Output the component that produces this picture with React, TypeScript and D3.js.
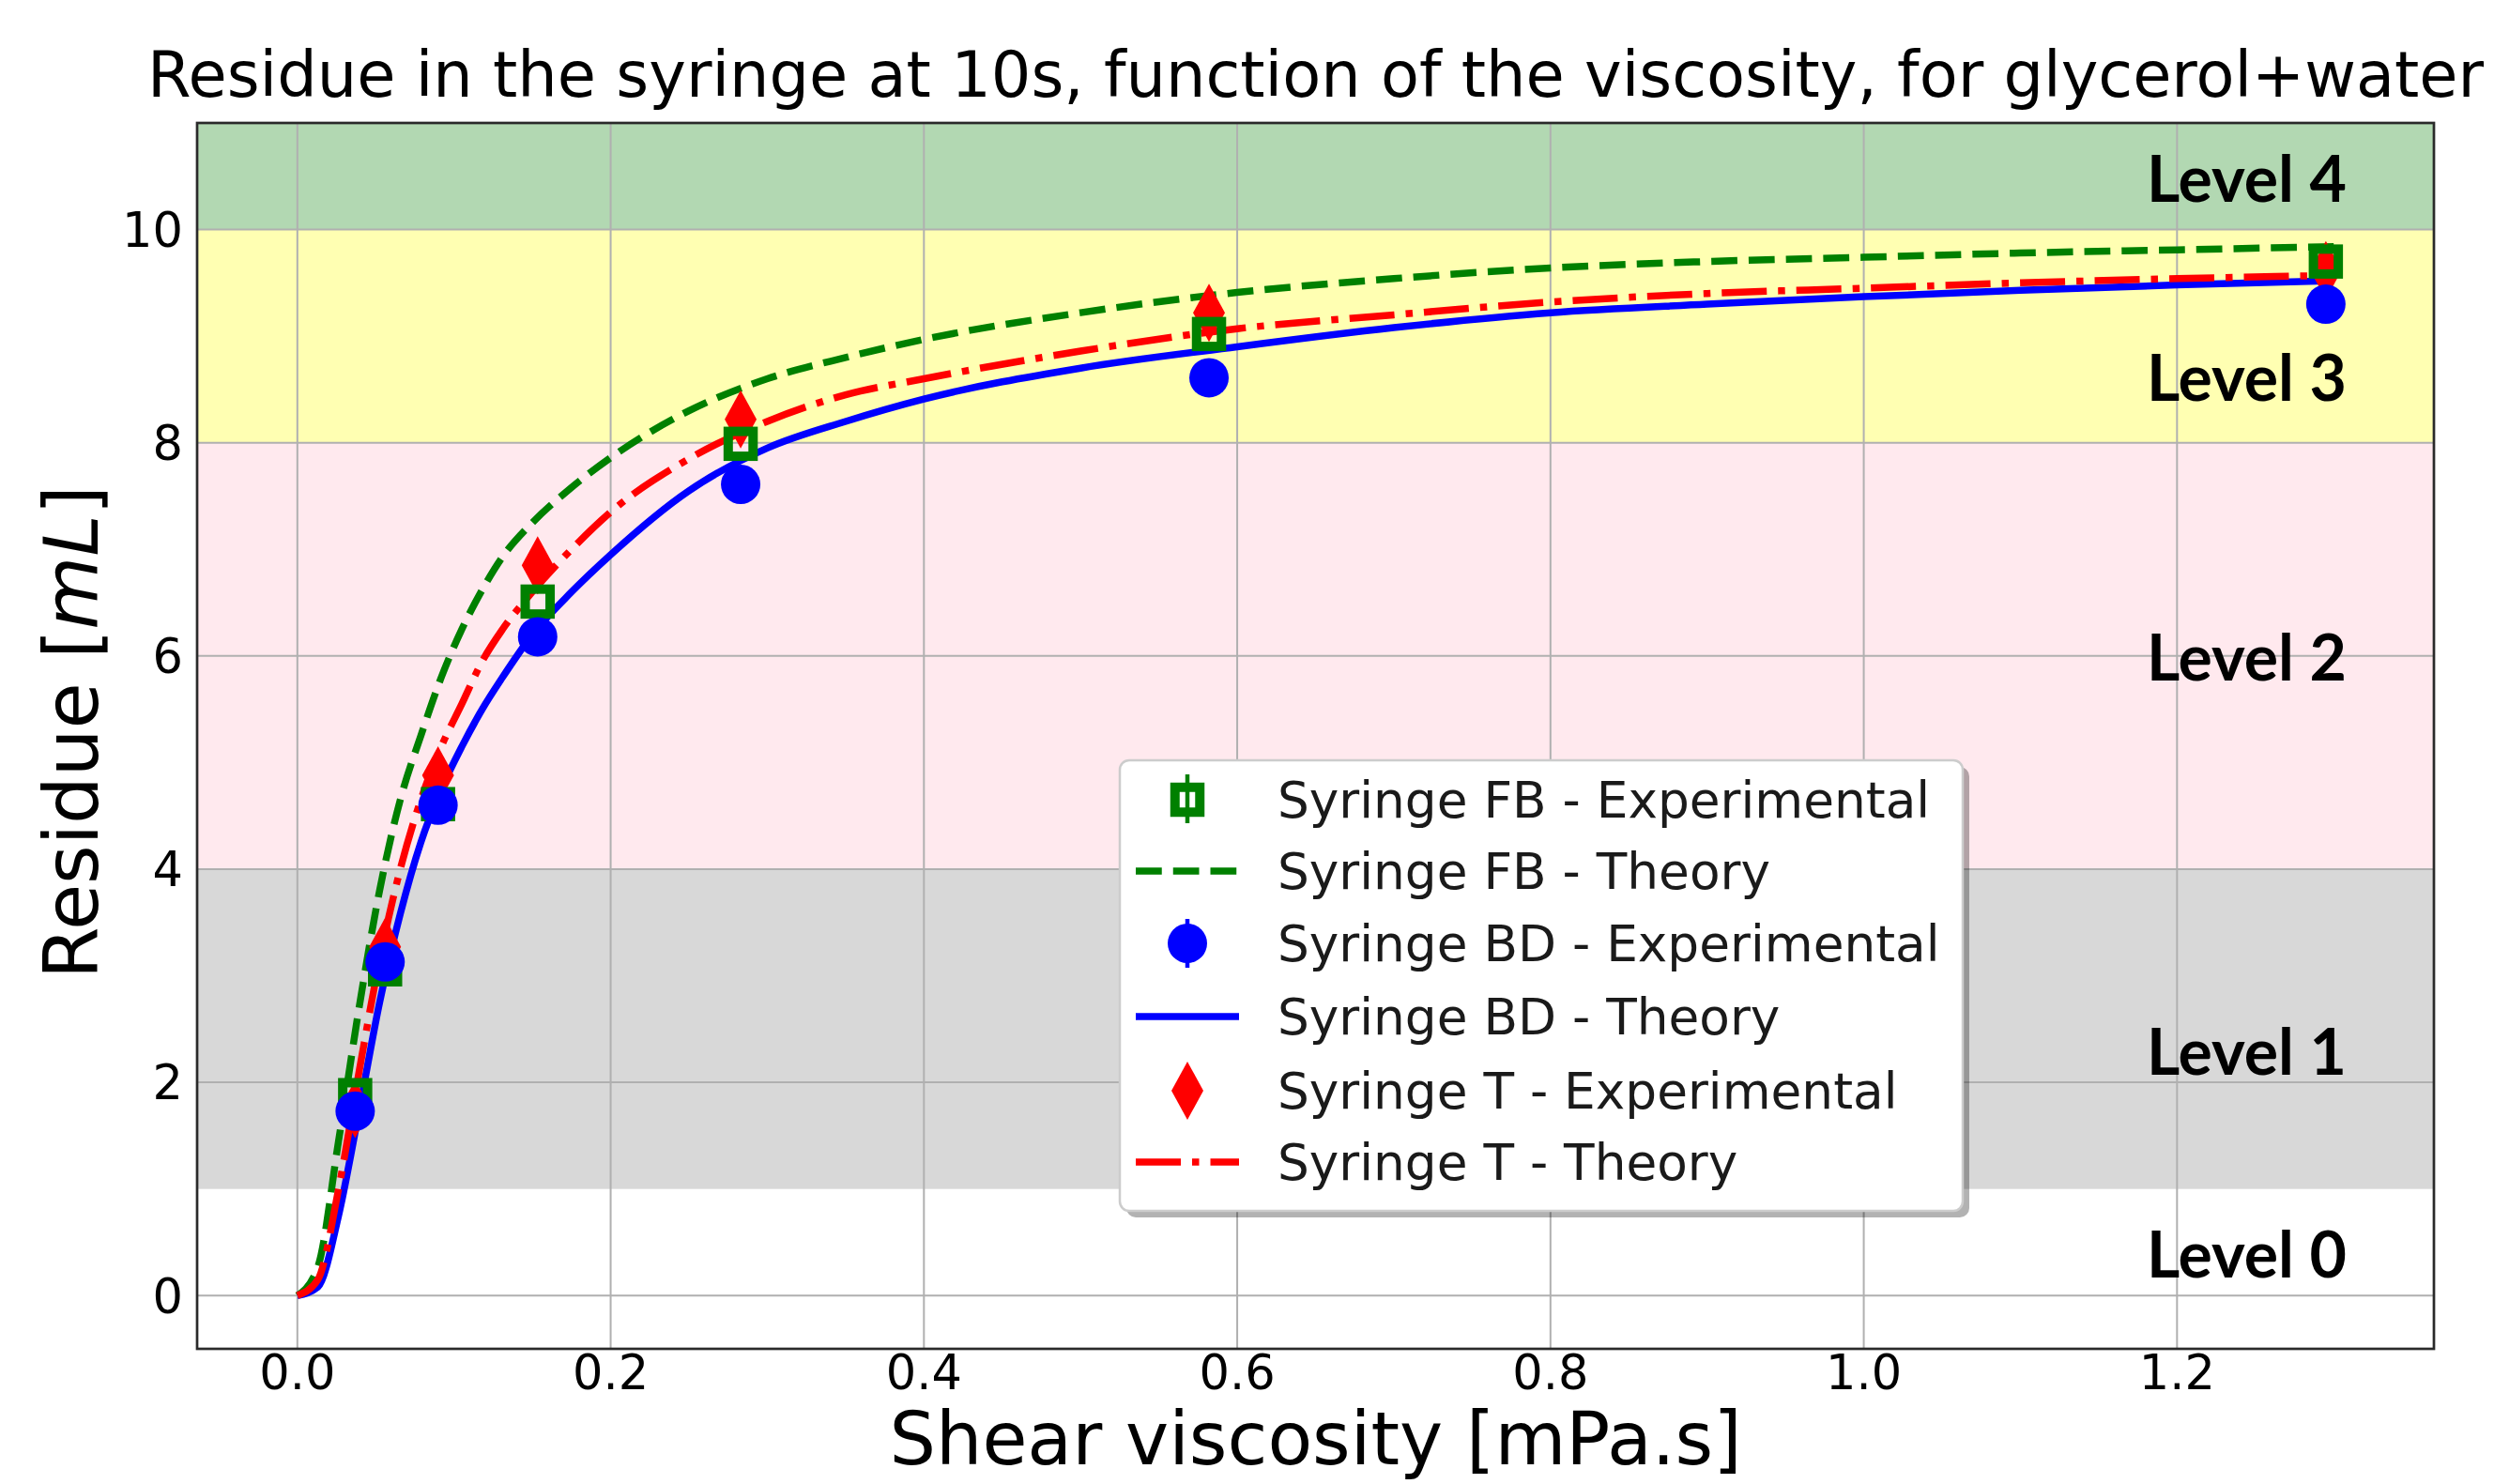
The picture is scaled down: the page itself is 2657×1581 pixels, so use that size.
import React, { useEffect } from "react";
import * as d3 from "d3";

// ---------- data ----------
const xTicks = [0.0, 0.2, 0.4, 0.6, 0.8, 1.0, 1.2];
const yTicks = [0, 2, 4, 6, 8, 10];

const xExp = [0.0369, 0.056, 0.0898, 0.1534, 0.283, 0.582, 1.295];
const fbExp = [1.88, 3.06, 4.61, 6.51, 7.99, 9.02, 9.7];
const bdExp = [1.73, 3.13, 4.6, 6.18, 7.61, 8.61, 9.3];
const tExp = [1.75, 3.27, 4.88, 6.85, 8.22, 9.22, 9.62];

const xTheory = [0, 0.0131, 0.0263, 0.0394, 0.0525, 0.0657, 0.0788, 0.0919, 0.105, 0.118, 0.131, 0.15, 0.175, 0.2, 0.25, 0.3, 0.35, 0.4, 0.5, 0.6, 0.7, 0.8, 0.9, 1.0, 1.1, 1.2, 1.3];
const fbTheory = [0, 0.27, 1.45, 2.7, 3.8, 4.65, 5.25, 5.8, 6.25, 6.62, 6.93, 7.25, 7.58, 7.86, 8.3, 8.6, 8.8, 8.97, 9.22, 9.41, 9.54, 9.64, 9.7, 9.74, 9.78, 9.81, 9.84];
const bdTheory = [0, 0.08, 0.75, 1.73, 2.75, 3.58, 4.25, 4.75, 5.15, 5.5, 5.8, 6.2, 6.6, 6.95, 7.55, 7.95, 8.2, 8.41, 8.7, 8.9, 9.08, 9.22, 9.3, 9.37, 9.43, 9.48, 9.52];
const tTheory = [0, 0.15, 1.0, 2.1, 3.15, 4.0, 4.65, 5.15, 5.55, 5.95, 6.25, 6.6, 7.0, 7.35, 7.85, 8.2, 8.45, 8.6, 8.86, 9.07, 9.2, 9.32, 9.4, 9.45, 9.5, 9.54, 9.57];

const bandLow = [1, 4, 8, 10];
const bandHigh = [4, 8, 10, 11];
const bandColors = ["#d8d8d8", "#ffe9ee", "#ffffb2", "#b2d8b2"];

const levelLabels = ["Level 0", "Level 1", "Level 2", "Level 3", "Level 4"];
const levelY = [0.17, 2.07, 5.77, 8.39, 10.26];

const legendLabels = [
  "Syringe FB - Experimental",
  "Syringe FB - Theory",
  "Syringe BD - Experimental",
  "Syringe BD - Theory",
  "Syringe T - Experimental",
  "Syringe T - Theory",
];

const GREEN = "#008000";
const BLUE = "#0000ff";
const RED = "#ff0000";

const W = 2657;
const H = 1581;
const L = 210, R = 2593, T = 131, B = 1437;

const x = d3.scaleLinear().domain([-0.064, 1.364]).range([L, R]);
const y = d3.scaleLinear().domain([-0.5, 11]).range([B, T]);

const LW = 7.5;
const DASH = `${3.7 * LW} ${1.6 * LW}`;
const DASHDOT = `${6.4 * LW} ${1.6 * LW} ${1 * LW} ${1.6 * LW}`;

const lineGen = d3
  .line<number>()
  .x((_, i) => x(xTheory[i]))
  .y((d) => y(d))
  .curve(d3.curveMonotoneX);

const SQ = 26.5; // square marker path side
const SQW = 10; // square edge width
const CR = 21; // circle radius
const diamondPath = "M0,-31 L17,0 L0,31 L-17,0 Z";

const FONT = "'DejaVu Sans', sans-serif";

export default function App() {
  useEffect(() => {
    document.body.style.margin = "0";
    document.body.style.overflow = "hidden";
  }, []);

  const legX = 1193, legY = 810, legW = 898, legH = 480;
  const rowY = [852, 928, 1005, 1083, 1162, 1238];
  const hx0 = 1210, hx1 = 1320, hxc = 1265, tx = 1361;

  return (
    <svg width={W} height={H} style={{ position: "absolute", left: 0, top: 0, background: "#fff" }}>
      <defs>
        <clipPath id="plotclip">
          <rect x={L} y={T} width={R - L} height={B - T} />
        </clipPath>
      </defs>

      {/* title */}
      <text x={(L + R) / 2} y={103} textAnchor="middle" fontFamily={FONT} fontSize={67} fill="#000">
        Residue in the syringe at 10s, function of the viscosity, for glycerol+water
      </text>

      {/* bands */}
      <g clipPath="url(#plotclip)">
        {bandLow.map((lo, i) => (
          <rect key={i} x={L} width={R - L} y={y(bandHigh[i])} height={y(lo) - y(bandHigh[i])} fill={bandColors[i]} />
        ))}
      </g>

      {/* grid */}
      <g stroke="#b0b0b0" strokeWidth={2}>
        {xTicks.map((t) => (
          <line key={"gx" + t} x1={x(t)} x2={x(t)} y1={T} y2={B} />
        ))}
        {yTicks.map((t) => (
          <line key={"gy" + t} x1={L} x2={R} y1={y(t)} y2={y(t)} />
        ))}
      </g>

      {/* level labels */}
      <g fontFamily="Lato, 'Open Sans', sans-serif" fontWeight="bold" fontSize={68} fill="#000">
        {levelLabels.map((lab, i) => (
          <text key={lab} x={2287} y={y(levelY[i])}>
            {lab}
          </text>
        ))}
      </g>

      {/* theory lines */}
      <g clipPath="url(#plotclip)" fill="none" strokeWidth={LW}>
        <path d={lineGen(fbTheory) || ""} stroke={GREEN} strokeDasharray={DASH} />
        <path d={lineGen(bdTheory) || ""} stroke={BLUE} />
        <path d={lineGen(tTheory) || ""} stroke={RED} strokeDasharray={DASHDOT} />
      </g>

      {/* experimental markers */}
      <g clipPath="url(#plotclip)">
        {tExp.map((v, i) => (
          <path key={"t" + i} d={diamondPath} transform={`translate(${x(xExp[i])},${y(v)})`} fill={RED} />
        ))}
        {fbExp.map((v, i) => (
          <rect
            key={"fb" + i}
            x={x(xExp[i]) - SQ / 2}
            y={y(v) - SQ / 2}
            width={SQ}
            height={SQ}
            fill="none"
            stroke={GREEN}
            strokeWidth={SQW}
          />
        ))}
        {bdExp.map((v, i) => (
          <circle key={"bd" + i} cx={x(xExp[i])} cy={y(v)} r={CR} fill={BLUE} />
        ))}
      </g>

      {/* axes frame */}
      <rect x={L} y={T} width={R - L} height={B - T} fill="none" stroke="#2a2a2a" strokeWidth={2.7} />

      {/* tick labels */}
      <g fontFamily={FONT} fontSize={51} fill="#000">
        {yTicks.map((t) => (
          <text key={"yt" + t} x={195} y={y(t)} dy="0.36em" textAnchor="end">
            {d3.format("d")(t)}
          </text>
        ))}
        {xTicks.map((t) => (
          <text key={"xt" + t} x={x(t)} y={1480} textAnchor="middle">
            {d3.format(".1f")(t)}
          </text>
        ))}
      </g>

      {/* axis labels */}
      <text x={(L + R) / 2} y={1560} textAnchor="middle" fontFamily={FONT} fontSize={78} fill="#000">
        Shear viscosity [mPa.s]
      </text>
      <text
        transform={`translate(104,${(T + B) / 2 - 4}) rotate(-90)`}
        textAnchor="middle"
        fontFamily={FONT}
        fontSize={80}
        fill="#000"
      >
        Residue [<tspan fontStyle="italic">mL</tspan>]
      </text>

      {/* legend */}
      <g>
        <rect x={legX + 7} y={legY + 7} width={legW} height={legH} rx={10} fill="#000" opacity={0.3} />
        <rect x={legX} y={legY} width={legW} height={legH} rx={10} fill="#fff" stroke="#cccccc" strokeWidth={2.5} />
        {/* FB exp */}
        <line x1={hxc} x2={hxc} y1={rowY[0] - 27} y2={rowY[0] + 25} stroke={GREEN} strokeWidth={4.5} />
        <rect x={hxc - SQ / 2} y={rowY[0] - SQ / 2} width={SQ} height={SQ} fill="none" stroke={GREEN} strokeWidth={SQW} />
        {/* FB theory */}
        <line x1={hx0} x2={hx1} y1={rowY[1]} y2={rowY[1]} stroke={GREEN} strokeWidth={LW} strokeDasharray={DASH} />
        {/* BD exp */}
        <line x1={hxc} x2={hxc} y1={rowY[2] - 26} y2={rowY[2] + 26} stroke={BLUE} strokeWidth={4.5} />
        <circle cx={hxc} cy={rowY[2]} r={CR} fill={BLUE} />
        {/* BD theory */}
        <line x1={hx0} x2={hx1} y1={rowY[3]} y2={rowY[3]} stroke={BLUE} strokeWidth={LW} />
        {/* T exp */}
        <path d={diamondPath} transform={`translate(${hxc},${rowY[4]})`} fill={RED} />
        {/* T theory */}
        <line x1={hx0} x2={hx1} y1={rowY[5]} y2={rowY[5]} stroke={RED} strokeWidth={LW} strokeDasharray={DASHDOT} />
        <g fontFamily={FONT} fontSize={53.3} fill="#1a1a1a">
          {legendLabels.map((lab, i) => (
            <text key={lab} x={tx} y={rowY[i] + 19}>
              {lab}
            </text>
          ))}
        </g>
      </g>
    </svg>
  );
}
